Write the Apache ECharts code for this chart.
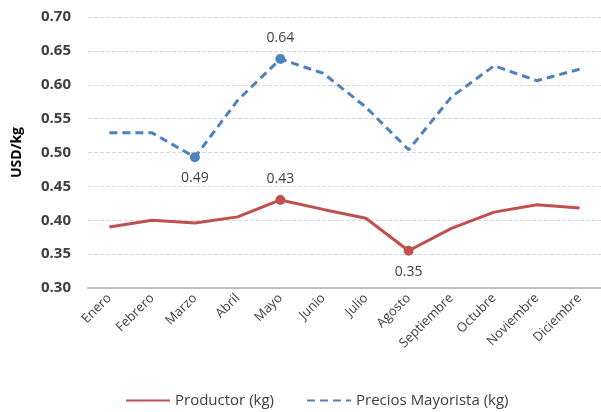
<!DOCTYPE html>
<html>
<head>
<meta charset="utf-8">
<script src="https://cdn.jsdelivr.net/npm/echarts@6/dist/echarts.min.js"></script>
<style>
  html, body { margin: 0; padding: 0; background: #fff; }
  #chart { width: 601px; height: 412px; }
</style>
</head>
<body>
<div id="chart"></div>
<script>
// meses
const meses = ['Enero', 'Febrero', 'Marzo', 'Abril', 'Mayo', 'Junio', 'Julio',
  'Agosto', 'Septiembre', 'Octubre', 'Noviembre', 'Diciembre']
// precios (USD/kg)
const productor = [0.390, 0.400, 0.396, 0.405, 0.430, 0.416, 0.403, 0.355, 0.388, 0.412, 0.423, 0.418]
const mayorista = [0.529, 0.529, 0.493, 0.577, 0.638, 0.617, 0.567, 0.504, 0.582, 0.628, 0.606, 0.623]
// puntos marcados: indice -> posicion de la etiqueta
const marcasProductor = { 4: 'top', 7: 'bottom' }
const marcasMayorista = { 2: 'bottom', 4: 'top' }

const textColor = '#404040'
const font = 'Open Sans, Liberation Sans, sans-serif'

function buildData(values, marks) {
  return values.map((v, i) => {
    if (!(i in marks)) return { value: v }
    return {
      value: v,
      symbol: 'circle',
      symbolSize: 10,
      label: {
        show: true,
        position: marks[i],
        distance: 9,
        formatter: p => p.value.toFixed(2),
        color: textColor,
        fontSize: 14,
        fontFamily: font
      }
    }
  })
}

const chart = echarts.init(document.getElementById('chart'))
chart.setOption({
  animation: false,
  grid: { left: 88, right: 0, top: 17, bottom: 124 },
  legend: {
    bottom: -1,
    left: 120,
    itemWidth: 44,
    itemHeight: 10,
    itemGap: 32,
    itemStyle: { color: 'transparent', borderWidth: 0 },
    textStyle: { color: textColor, fontSize: 15, fontFamily: font },
    data: ['Productor (kg)', 'Precios Mayorista (kg)']
  },
  xAxis: {
    type: 'category',
    data: meses,
    boundaryGap: true,
    axisLine: { lineStyle: { color: '#bfbfbf', width: 2 } },
    axisTick: { show: false },
    axisLabel: {
      interval: 0,
      rotate: 45,
      color: textColor,
      fontSize: 13,
      fontFamily: font,
      margin: 8
    }
  },
  yAxis: {
    type: 'value',
    min: 0.30,
    max: 0.70,
    interval: 0.05,
    name: 'USD/kg',
    nameLocation: 'middle',
    nameRotate: 90,
    nameGap: 64,
    nameTextStyle: { color: '#000', fontSize: 14, fontWeight: 'bold', fontFamily: font },
    axisLine: { show: false },
    axisTick: { show: false },
    axisLabel: {
      color: textColor,
      fontSize: 15,
      fontWeight: 'bold',
      fontFamily: font,
      margin: 17,
      formatter: v => v.toFixed(2)
    },
    splitLine: { lineStyle: { color: '#d9d9d9', type: 'dashed', width: 1 } }
  },
  series: [
    {
      name: 'Productor (kg)',
      type: 'line',
      symbol: 'none',
      data: buildData(productor, marcasProductor),
      itemStyle: { color: '#c0504d' },
      lineStyle: { color: '#c0504d', width: 3 }
    },
    {
      name: 'Precios Mayorista (kg)',
      type: 'line',
      symbol: 'none',
      data: buildData(mayorista, marcasMayorista),
      itemStyle: { color: '#4f81bd' },
      lineStyle: { color: '#4f81bd', width: 3, type: [8, 5] }
    }
  ]
})
</script>
</body>
</html>
